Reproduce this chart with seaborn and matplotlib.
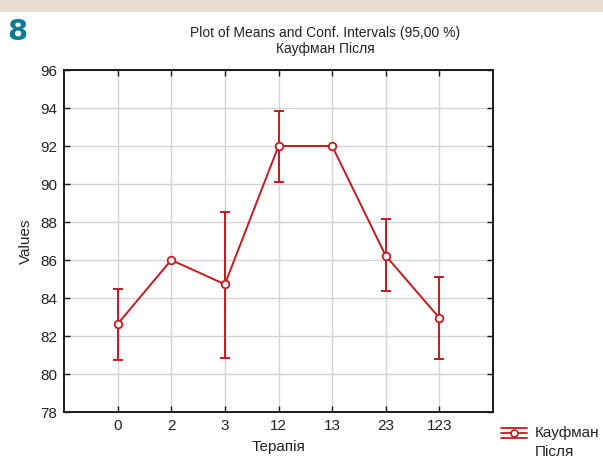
import matplotlib
matplotlib.use("Agg")
import matplotlib.pyplot as plt
from matplotlib.lines import Line2D
from matplotlib.patches import Rectangle
import numpy as np
import pandas as pd
import seaborn as sns

categories = ["0", "2", "3", "12", "13", "23", "123"]
means = [82.63, 86.0, 84.72, 92.0, 92.0, 86.22, 82.95]
ci_low = [80.74, np.nan, 80.85, 90.12, np.nan, 84.37, 80.8]
ci_high = [84.47, np.nan, 88.52, 93.82, np.nan, 88.16, 85.1]
yticks = [78, 80, 82, 84, 86, 88, 90, 92, 94, 96]

sns.set_theme(style="white")
plt.rcParams["font.family"] = ["Liberation Sans", "DejaVu Sans"]

NSIZE = 11
RED = "#c41a1f"
TXT = "#222222"
fig = plt.figure(figsize=(6.03, 4.62), dpi=100)
W, H = 603, 462
ax = fig.add_axes([64 / W, 1 - 412 / H, (493 - 64) / W, (412 - 70) / H])

df = pd.DataFrame({"pos": np.arange(len(categories)), "mean": means,
                   "lo": ci_low, "hi": ci_high})

sns.lineplot(data=df, x="pos", y="mean", ax=ax, color=RED, lw=1.4,
             marker="o", markersize=5.5, markerfacecolor="white",
             markeredgecolor=RED, markeredgewidth=1.3, zorder=4)
err = df.dropna()
ax.errorbar(err["pos"], err["mean"],
            yerr=[err["mean"] - err["lo"], err["hi"] - err["mean"]],
            fmt="none", ecolor=RED, elinewidth=1.4, capsize=3.5,
            capthick=1.4, zorder=3)

ax.set_xlim(-1, 7)
ax.set_ylim(78, 96)
ax.set_xticks(range(len(categories)))
ax.set_xticklabels(categories)
ax.set_yticks(yticks)
ax.grid(True, color="#d4d4d4", lw=1.0)
ax.set_axisbelow(True)
for s in ax.spines.values():
    s.set_color("#1a1a1a")
    s.set_linewidth(1.4)
    s.set_visible(True)
ax.tick_params(direction="in", length=4, width=1.0, color="#1a1a1a",
               labelcolor=TXT, labelsize=NSIZE, top=True, right=True,
               bottom=True, left=True, pad=5)
ax.set_xlabel("Терапія", fontsize=NSIZE, color=TXT, labelpad=5)
ax.set_ylabel("Values", fontsize=NSIZE, color=TXT, labelpad=5)

# top band and page number
fig.add_artist(Rectangle((0, 1 - 11 / H), 1, 11 / H, transform=fig.transFigure,
                         color="#e6dcd0", zorder=0))
fig.text(7 / W, 1 - 40 / H, "8", fontsize=21, fontweight="heavy",
         color="#0e7c96", va="baseline", ha="left",
         fontfamily=["DejaVu Sans"])

fig.text(325 / W, 1 - 33 / H, "Plot of Means and Conf. Intervals (95,00 %)",
         fontsize=10, ha="center", va="center", color=TXT)
fig.text(325 / W, 1 - 49 / H, "Кауфман Після",
         fontsize=10, ha="center", va="center", color=TXT)

# legend symbol
ly = 1 - 433 / H
for dy in (-5, 0, 5):
    fig.add_artist(Line2D([501 / W, 527 / W], [ly + dy / H, ly + dy / H],
                          transform=fig.transFigure, color=RED, lw=1.3))
fig.add_artist(Line2D([514 / W], [ly], transform=fig.transFigure, marker="o",
                      markersize=5, markerfacecolor="white",
                      markeredgecolor=RED, markeredgewidth=1.2, lw=0))
fig.text(535 / W, ly, "Кауфман", fontsize=NSIZE, va="center", ha="left",
         color=TXT)
fig.text(535 / W, 1 - 452 / H, "Після", fontsize=NSIZE, va="center", ha="left",
         color=TXT)

fig.savefig("out.png", dpi=100)
